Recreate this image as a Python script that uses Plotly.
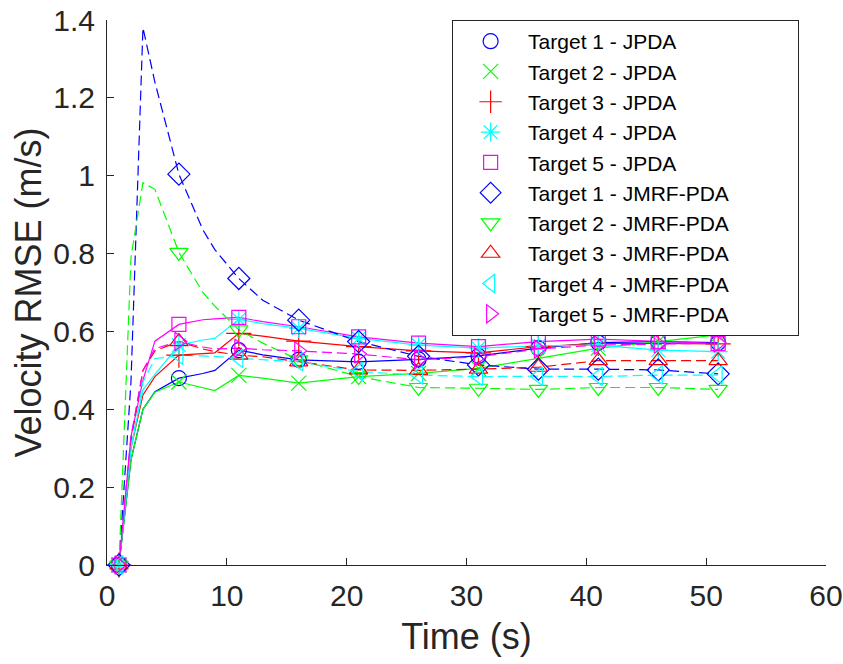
import plotly.graph_objects as go

# ---------------- data ----------------
times = [1, 2, 3, 4, 6, 8, 9, 11, 13, 16, 21, 26, 31, 36, 41, 46, 51]

t1_jpda = [0, 0.27, 0.40, 0.445, 0.48, 0.492, 0.50, 0.552, 0.540, 0.527, 0.522, 0.528, 0.537, 0.557, 0.571, 0.574, 0.571]
t2_jpda = [0, 0.27, 0.40, 0.444, 0.47, 0.455, 0.448, 0.487, 0.480, 0.467, 0.484, 0.492, 0.505, 0.531, 0.557, 0.574, 0.591]
t3_jpda = [0, 0.30, 0.437, 0.484, 0.539, 0.543, 0.545, 0.595, 0.588, 0.575, 0.561, 0.550, 0.545, 0.561, 0.569, 0.569, 0.568]
t4_jpda = [0, 0.30, 0.45, 0.49, 0.565, 0.578, 0.582, 0.631, 0.620, 0.608, 0.582, 0.565, 0.557, 0.563, 0.565, 0.552, 0.548]
t5_jpda = [0, 0.33, 0.475, 0.575, 0.618, 0.630, 0.632, 0.636, 0.625, 0.612, 0.586, 0.570, 0.561, 0.574, 0.580, 0.574, 0.569]

t1_jmrf = [0, 0.47, 1.38, 1.24, 1.004, 0.861, 0.81, 0.736, 0.680, 0.629, 0.574, 0.536, 0.514, 0.503, 0.503, 0.501, 0.491]
t2_jmrf = [0, 0.79, 0.982, 0.965, 0.803, 0.700, 0.665, 0.604, 0.570, 0.527, 0.484, 0.456, 0.454, 0.451, 0.456, 0.456, 0.451]
t3_jmrf = [0, 0.32, 0.50, 0.55, 0.574, 0.555, 0.548, 0.539, 0.535, 0.522, 0.501, 0.500, 0.503, 0.508, 0.525, 0.525, 0.525]
t4_jmrf = [0, 0.30, 0.47, 0.53, 0.539, 0.538, 0.536, 0.531, 0.527, 0.522, 0.497, 0.488, 0.484, 0.485, 0.484, 0.488, 0.488]
t5_jmrf = [0, 0.33, 0.50, 0.556, 0.574, 0.560, 0.555, 0.557, 0.553, 0.550, 0.542, 0.527, 0.535, 0.555, 0.565, 0.568, 0.570]

marker_times = [1, 6, 11, 16, 21, 26, 31, 36, 41, 46, 51]

series_names = [
    "Target 1 - JPDA", "Target 2 - JPDA", "Target 3 - JPDA", "Target 4 - JPDA", "Target 5 - JPDA",
    "Target 1 - JMRF-PDA", "Target 2 - JMRF-PDA", "Target 3 - JMRF-PDA", "Target 4 - JMRF-PDA", "Target 5 - JMRF-PDA",
]
series_values = [t1_jpda, t2_jpda, t3_jpda, t4_jpda, t5_jpda,
                 t1_jmrf, t2_jmrf, t3_jmrf, t4_jmrf, t5_jmrf]
series_colors = ["#0000FF", "#00FF00", "#FF0000", "#00FFFF", "#FF00FF"] * 2
series_symbols = ["circle-open", "x-thin-open", "cross-thin-open", "asterisk-open", "square-open",
                  "diamond-open", "triangle-down-open", "triangle-up-open", "triangle-left-open", "triangle-right-open"]
series_dash = ["solid"] * 5 + ["10px,5px"] * 5
series_msize = [15, 15, 18, 16, 14, 17, 16, 16, 16, 16]

y_ticks = [0, 0.2, 0.4, 0.6, 0.8, 1.0, 1.2, 1.4]
y_ticktext = ["0", "0.2", "0.4", "0.6", "0.8", "1", "1.2", "1.4"]
x_ticks = [0, 10, 20, 30, 40, 50, 60]

# legend box padding on the right (reference legend box is wider than its text)
legend_pad = "\u00a0" * 11

# ---------------- figure ----------------
fig = go.Figure()

# lines
for name, vals, col, dash in zip(series_names, series_values, series_colors, series_dash):
    fig.add_trace(go.Scatter(
        x=times, y=vals, mode="lines",
        line=dict(color=col, width=1.2, dash=dash),
        showlegend=False, hoverinfo="skip", cliponaxis=False,
    ))

# markers (every 5 s)
for name, vals, col, sym, ms in zip(series_names, series_values, series_colors, series_symbols, series_msize):
    mx = [t for t in times if t in marker_times]
    my = [v for t, v in zip(times, vals) if t in marker_times]
    fig.add_trace(go.Scatter(
        x=mx, y=my, mode="markers", name=name + legend_pad, legendgroup=name,
        marker=dict(symbol=sym, size=ms, color=col, line=dict(color=col, width=1.2)),
        cliponaxis=False,
    ))

axis_color = "#262626"
fig.update_layout(
    width=843, height=664,
    margin=dict(l=107, r=17, t=20, b=99),
    paper_bgcolor="white", plot_bgcolor="white",
    font=dict(family="Liberation Sans, Arial, sans-serif", color=axis_color),
    xaxis=dict(
        range=[0, 60], tickvals=x_ticks, ticks="inside", ticklen=7, tickwidth=1,
        tickcolor=axis_color, showline=True, linecolor=axis_color, linewidth=1,
        showgrid=False, zeroline=False, mirror=False, automargin=False,
        tickfont=dict(size=30, color=axis_color), ticklabelstandoff=4,
        title=dict(text="Time (s)", font=dict(size=36, color=axis_color), standoff=12),
    ),
    yaxis=dict(
        range=[0, 1.4], tickvals=y_ticks, ticktext=y_ticktext, ticks="inside", ticklen=7,
        tickwidth=1, tickcolor=axis_color, showline=True, linecolor=axis_color, linewidth=1,
        showgrid=False, zeroline=False, mirror=False, automargin=False,
        tickfont=dict(size=30, color=axis_color), ticklabelstandoff=5,
        title=dict(text="Velocity RMSE (m/s)", font=dict(size=36, color=axis_color), standoff=0),
    ),
    legend=dict(
        x=0.48, y=1.0, xanchor="left", yanchor="top",
        bgcolor="white", bordercolor="#262626", borderwidth=1,
        font=dict(size=21, color="black", family="Liberation Sans, Arial, sans-serif"),
        itemwidth=65, tracegroupgap=0,
    ),
)

fig.write_html("out.html")
